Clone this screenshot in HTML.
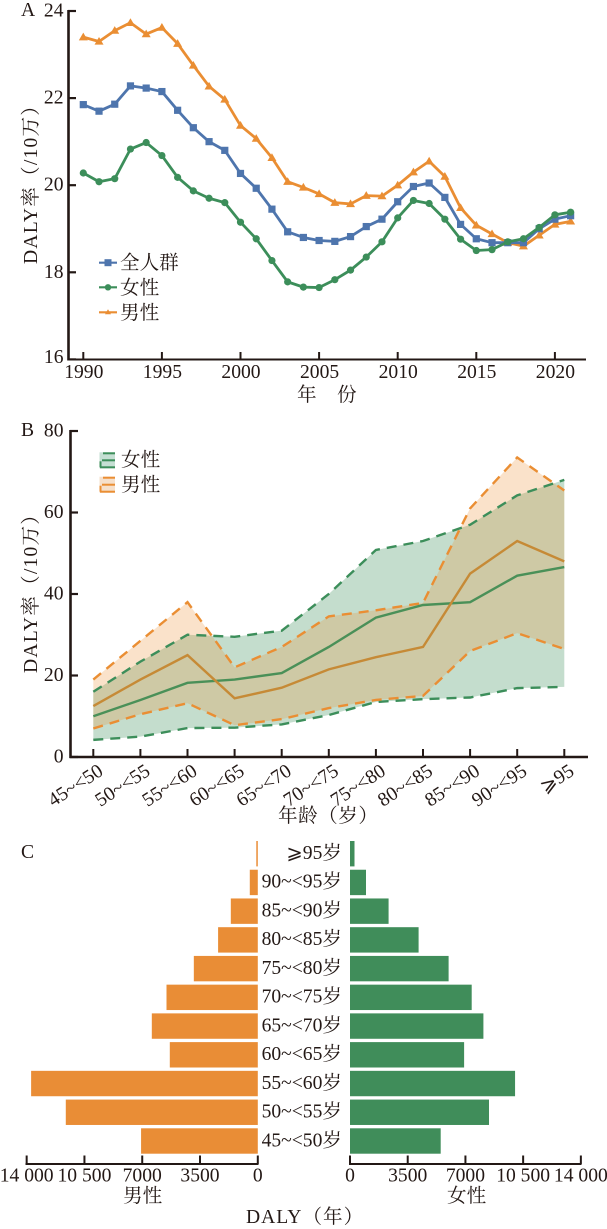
<!DOCTYPE html>
<html lang="zh">
<head>
<meta charset="utf-8">
<title>DALY charts</title>
<style>
html,body{margin:0;padding:0;background:#fff;}
svg{display:block;}
text{font-family:"Liberation Serif","Noto Serif CJK SC",serif;font-size:19.6px;fill:#231815;}
</style>
</head>
<body>
<svg id="figure" xmlns="http://www.w3.org/2000/svg" width="607" height="1229" viewBox="0 0 607 1229">
  <rect x="0" y="0" width="607" height="1229" fill="#ffffff"/>
  <g id="panelA"></g>
  <g id="panelB"></g>
  <g id="panelC"></g>

  <text x="21" y="16">A</text>
  <text transform="translate(37,264) rotate(-90)" letter-spacing="1.2">DALY率（/10万）</text>
  <text y="401"><tspan x="297">年</tspan><tspan x="337">份</tspan></text>
  <text x="120" y="269">全人群</text>
  <text x="120" y="294">女性</text>
  <text x="120" y="319">男性</text>

  <text x="21" y="436">B</text>
  <text transform="translate(37,673) rotate(-90)" letter-spacing="1.2">DALY率（/10万）</text>
  <text x="278" y="822" letter-spacing="0.5">年龄（岁）</text>
  <text x="121" y="466">女性</text>
  <text x="121" y="491">男性</text>

  <text x="21" y="858">C</text>
  <text x="123" y="1202">男性</text>
  <text x="447" y="1202">女性</text>
  <text x="246" y="1223" letter-spacing="1">DALY（年）</text>
</svg>
<script>
// ---------- Panel A data ----------
const years = [1990,1991,1992,1993,1994,1995,1996,1997,1998,1999,2000,2001,2002,2003,2004,2005,2006,2007,2008,2009,2010,2011,2012,2013,2014,2015,2016,2017,2018,2019,2020,2021];
const rateMale = [23.4,23.3,23.55,23.73,23.47,23.62,23.25,22.75,22.27,21.97,21.37,21.07,20.63,20.08,19.95,19.8,19.6,19.57,19.76,19.75,20.0,20.3,20.55,20.2,19.48,19.08,18.88,18.68,18.6,18.85,19.1,19.17];
const rateAll = [21.85,21.7,21.86,22.28,22.23,22.15,21.72,21.32,21.0,20.8,20.27,19.93,19.45,18.93,18.8,18.73,18.71,18.82,19.05,19.22,19.62,19.97,20.05,19.72,19.1,18.77,18.68,18.68,18.68,19.0,19.22,19.3];
const rateFemale = [20.28,20.08,20.15,20.83,20.98,20.68,20.18,19.87,19.7,19.6,19.15,18.77,18.27,17.78,17.66,17.65,17.83,18.05,18.35,18.7,19.25,19.65,19.58,19.22,18.76,18.5,18.52,18.7,18.77,19.03,19.32,19.38];
const yearTicks = [1990,1995,2000,2005,2010,2015,2020];
const rateTicks = [16,18,20,22,24];

// ---------- Panel B data ----------
const ageBands = ['45~<50','50~<55','55~<60','60~<65','65~<70','70~<75','75~<80','80~<85','85~<90','90~<95','⩾95'];
const femaleUpper = [16,23.4,30,29.5,31,40,50.8,53,57,64.2,68];
const femaleMean = [10,14,18.2,19,20.6,27,34.2,37.3,38,44.5,46.6];
const femaleLower = [4.2,5,7.1,7.2,8,10.3,13.5,14.2,14.6,16.9,17.2];
const maleUpper = [19,28.5,38,22,27,34.5,36,37.8,61,73.5,65.4];
const maleMean = [12.5,19,25,14.4,17,21.5,24.5,27,45,53,48];
const maleLower = [7,10.5,13.2,7.8,9.3,12,14,15,26,30.4,26.5];
const bandTicks = [0,20,40,60,80];

// ---------- Panel C data ----------
const pyramidLabels = ['⩾95岁','90~<95岁','85~<90岁','80~<85岁','75~<80岁','70~<75岁','65~<70岁','60~<65岁','55~<60岁','50~<55岁','45~<50岁'];
const dalyMale = [91,485,1635,2405,3875,5530,6420,5330,13730,11630,7070];
const dalyFemale = [273,970,2340,4160,5980,7380,8090,6920,10010,8430,5500];
const dalyTicks = [0,3500,7000,10500,14000];
const dalyTickLabels = ['0','3500','7000','10 500','14 000'];

const INK = '#231815', BLUE = '#4e75ad', GREEN = '#3c8e5a', ORANGE = '#ea8e33';
const NS = 'http://www.w3.org/2000/svg';

function make(tag, parent, attrs, txt) {
  const n = document.createElementNS(NS, tag);
  for (const k in attrs) n.setAttribute(k, attrs[k]);
  if (txt !== undefined) n.textContent = txt;
  parent.appendChild(n);
  return n;
}
function pts(xs, ys) { return xs.map((x, i) => x.toFixed(2) + ',' + ys[i].toFixed(2)).join(' '); }

// ========== Panel A ==========
const gA = document.getElementById('panelA');
const xA = y => 83.3 + (y - 1990) * 15.72;
const yA = v => 11 + (24 - v) * 43.55;

function drawSeriesA(values, color, kind, name) {
  const g = make('g', gA, {});
  
  
  const line = make('polyline', g, {points: pts(years.map(xA), values.map(yA)), fill: 'none', stroke: color, 'stroke-width': 2.8, 'stroke-linejoin': 'round'});
  
  
  values.forEach((v, i) => {
    const m = drawMarker(g, kind, xA(years[i]), yA(v), color);
    
    
  });
}
function drawMarker(parent, kind, x, y, color) {
  if (kind === 'square') return make('rect', parent, {x: x - 3.6, y: y - 3.6, width: 7.2, height: 7.2, fill: color});
  if (kind === 'circle') return make('circle', parent, {cx: x, cy: y, r: 3.6, fill: color});
  return make('polygon', parent, {points: (x) + ',' + (y - 4.5) + ' ' + (x + 4.5) + ',' + (y + 3.2) + ' ' + (x - 4.5) + ',' + (y + 3.2), fill: color});
}
drawSeriesA(rateMale, ORANGE, 'triangle', 'series-male');
drawSeriesA(rateAll, BLUE, 'square', 'series-all');
drawSeriesA(rateFemale, GREEN, 'circle', 'series-female');

const axisAY = make('line', gA, {x1: 68.5, x2: 68.5, y1: 10, y2: 360.5, stroke: INK, 'stroke-width': 2.6});


const axisAX = make('line', gA, {x1: 67.5, x2: 586, y1: 359.5, y2: 359.5, stroke: INK, 'stroke-width': 2});


rateTicks.forEach(v => {
  const t = make('line', gA, {x1: 68, x2: 76, y1: yA(v), y2: yA(v), stroke: INK, 'stroke-width': 2.2});
  
  
  const l = make('text', gA, {x: 63.5, y: v === 16 ? 363 : yA(v) + 5.5, 'text-anchor': 'end'}, String(v));
  
  
});
yearTicks.forEach(y => {
  const t = make('line', gA, {x1: xA(y), x2: xA(y), y1: 352, y2: 359.5, stroke: INK, 'stroke-width': 2});
  
  
  const l = make('text', gA, {x: xA(y) + 0.5, y: 378, 'text-anchor': 'middle'}, String(y));
  
  
});
[[BLUE, 'square', 262.7, 'legend-swatch-all'], [GREEN, 'circle', 287.3, 'legend-swatch-female'], [ORANGE, 'triangle', 312.3, 'legend-swatch-male']].forEach(e => {
  const g = make('g', gA, {});
  
  
  make('line', g, {x1: 99, x2: 117, y1: e[2], y2: e[2], stroke: e[0], 'stroke-width': 2.2});
  if (e[1] === 'square') make('rect', g, {x: 104.5, y: e[2] - 3.5, width: 7, height: 7, fill: e[0]});
  if (e[1] === 'circle') make('circle', g, {cx: 108, cy: e[2], r: 3.2, fill: e[0]});
  if (e[1] === 'triangle') make('polygon', g, {points: '108,' + (e[2] - 3) + ' 111,' + (e[2] + 2) + ' 105,' + (e[2] + 2), fill: e[0]});
});

// ========== Panel B ==========
const gB = document.getElementById('panelB');
const xB = i => 93.3 + i * 47.1;
const yB = v => 757 - v * 4.075;
const bandX = ageBands.map((_, i) => xB(i));

function drawBand(upper, mean, lower, color, alpha, name) {
  const poly = make('polygon', gB, {
    points: pts(bandX.concat(bandX.slice().reverse()), upper.map(yB).concat(lower.slice().reverse().map(yB))),
    fill: color, 'fill-opacity': alpha
  });
  
  
}
function drawBandLines(upper, mean, lower, color, name) {
  const u = make('polyline', gB, {points: pts(bandX, upper.map(yB)), fill: 'none', stroke: color, 'stroke-width': 2.4, 'stroke-dasharray': '10 7'});
  
  
  const l = make('polyline', gB, {points: pts(bandX, lower.map(yB)), fill: 'none', stroke: color, 'stroke-width': 2.4, 'stroke-dasharray': '10 7'});
  
  
}
drawBand(femaleUpper, femaleMean, femaleLower, GREEN, 0.3, 'female');
drawBand(maleUpper, maleMean, maleLower, ORANGE, 0.26, 'male');
drawBandLines(femaleUpper, femaleMean, femaleLower, GREEN, 'female');
drawBandLines(maleUpper, maleMean, maleLower, ORANGE, 'male');
const meanF = make('polyline', gB, {points: pts(bandX, femaleMean.map(yB)), fill: 'none', stroke: '#4a9058', 'stroke-width': 2.4});


const meanM = make('polyline', gB, {points: pts(bandX, maleMean.map(yB)), fill: 'none', stroke: '#c68a36', 'stroke-width': 2.4});



const axisBY = make('line', gB, {x1: 70.5, x2: 70.5, y1: 430, y2: 758, stroke: INK, 'stroke-width': 2.6});


const axisBX = make('line', gB, {x1: 69.5, x2: 588, y1: 757, y2: 757, stroke: INK, 'stroke-width': 2.4});


bandTicks.forEach(v => {
  const t = make('line', gB, {x1: 70, x2: 78, y1: yB(v), y2: yB(v), stroke: INK, 'stroke-width': 2.2});
  
  
  const l = make('text', gB, {x: 63.5, y: yB(v) + 5.5, 'text-anchor': 'end'}, String(v));
  
  
});
ageBands.forEach((c, i) => {
  const t = make('line', gB, {x1: xB(i), x2: xB(i), y1: 749, y2: 757, stroke: INK, 'stroke-width': 2});
  
  
  const l = make('text', gB, {transform: 'translate(' + (xB(i) + 11) + ',774) rotate(-33)', 'text-anchor': 'end'}, c);
  
  
});
[[GREEN, 452.3, '#c5dfd3', 'band-legend-swatch-female'], [ORANGE, 476.7, '#f6e0cb', 'band-legend-swatch-male']].forEach(e => {
  const g = make('g', gB, {});
  
  
  make('rect', g, {x: 99.5, y: e[1], width: 15.5, height: 16, fill: e[2]});
  make('line', g, {x1: 103, x2: 115, y1: e[1] + 1, y2: e[1] + 1, stroke: e[0], 'stroke-width': 2});
  make('line', g, {x1: 102, x2: 115, y1: e[1] + 8, y2: e[1] + 8, stroke: e[0], 'stroke-width': 2});
  make('line', g, {x1: 100, x2: 115, y1: e[1] + 15, y2: e[1] + 15, stroke: e[0], 'stroke-width': 2});
  make('line', g, {x1: 100.5, x2: 100.5, y1: e[1] + 9, y2: e[1] + 15, stroke: e[0], 'stroke-width': 2});
});

// ========== Panel C ==========
const gC = document.getElementById('panelC');
const xMale = v => 257.8 - v * 0.01651;
const xFemale = v => 350 + v * 0.01649;
const rowY = i => 841 + i * 28.73;

pyramidLabels.forEach((c, i) => {
  const m = make('rect', gC, {x: xMale(dalyMale[i]), y: rowY(i), width: 257.8 - xMale(dalyMale[i]), height: 25.4, fill: '#e98d36'});
  
  
  const f = make('rect', gC, {x: 350, y: rowY(i), width: xFemale(dalyFemale[i]) - 350, height: 25.4, fill: '#408d5a'});
  
  
  const l = make('text', gC, {x: 342, y: rowY(i) + 18, 'text-anchor': 'end'}, c);
  
  
});
const axisCM = make('line', gC, {x1: 25.5, x2: 258.5, y1: 1164, y2: 1164, stroke: INK, 'stroke-width': 2});


const axisCF = make('line', gC, {x1: 349, x2: 581.5, y1: 1164, y2: 1164, stroke: INK, 'stroke-width': 2});


dalyTicks.forEach((v, i) => {
  const tm = make('line', gC, {x1: xMale(v), x2: xMale(v), y1: 1155.5, y2: 1164, stroke: INK, 'stroke-width': 2});
  
  
  const tf = make('line', gC, {x1: xFemale(v), x2: xFemale(v), y1: 1155.5, y2: 1164, stroke: INK, 'stroke-width': 2});
  
  
  const lm = make('text', gC, {x: xMale(v), y: 1181.5, 'text-anchor': 'middle'}, dalyTickLabels[i]);
  
  
  const lf = make('text', gC, {x: xFemale(v), y: 1181.5, 'text-anchor': 'middle'}, dalyTickLabels[i]);
  
  
});
</script>
</body>
</html>
